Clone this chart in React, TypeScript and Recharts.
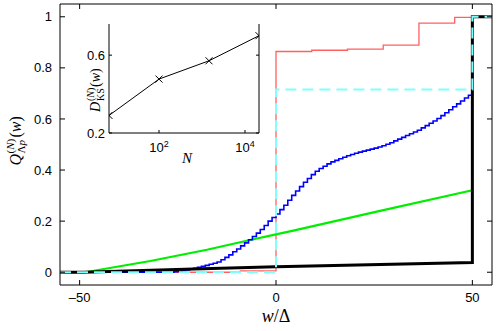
import React from 'react';
import { LineChart, Line, XAxis, YAxis } from 'recharts';

const SANS = '"Liberation Sans", Arial, sans-serif';
const SERIF = '"Liberation Serif", "Times New Roman", serif';

// main panel, x = w/Δ
const redX = [-55, -9.1, 0, 9.1, 18.2, 27.3, 36.4, 45.5, 50, 55];
const redY = [0, 0.005, 0.864, 0.869, 0.873, 0.889, 0.975, 0.998, 1, 1];

const cyanX = [-55, 0, 50, 55];
const cyanY = [0, 0.715, 1, 1];

const greenX = [-55, -48.6, -32, -17.6, -6.6, 0, 4.4, 26.5, 50];
const greenY = [0, 0, 0.044, 0.088, 0.126, 0.148, 0.163, 0.24, 0.321];

const blackX = [-55, -49, -21, 0, 50, 50, 55];
const blackY = [0, 0, 0.013, 0.021, 0.038, 1, 1];

const blueX = [
  -55, -26, -25, -24, -23, -22, -21, -20, -19, -18, -17, -16, -15, -14, -13, -12, -11, -10,
  -9, -8, -7, -6, -5, -4, -3, -2, -1, 0, 1, 2, 3, 4, 5, 6, 7, 8, 9, 10, 11, 12, 13, 14, 15,
  16, 17, 18, 19, 20, 21, 22, 23, 24, 25, 26, 27, 28, 29, 30, 31, 32, 33, 34, 35, 36, 37,
  38, 39, 40, 41, 42, 43, 44, 45, 46, 47, 48, 49, 50, 55,
];
const blueY = [
  0, 0.002, 0.004, 0.006, 0.009, 0.012, 0.015, 0.019, 0.023, 0.027, 0.031, 0.035, 0.04,
  0.049, 0.058, 0.068, 0.08, 0.091, 0.103, 0.115, 0.127, 0.14, 0.153, 0.167, 0.183, 0.2,
  0.214, 0.228, 0.245, 0.262, 0.282, 0.301, 0.318, 0.335, 0.352, 0.367, 0.382, 0.395,
  0.406, 0.415, 0.424, 0.432, 0.438, 0.444, 0.45, 0.456, 0.461, 0.466, 0.47, 0.474, 0.478,
  0.482, 0.486, 0.49, 0.495, 0.501, 0.507, 0.514, 0.521, 0.528, 0.535, 0.542, 0.549,
  0.556, 0.565, 0.574, 0.583, 0.592, 0.602, 0.613, 0.624, 0.636, 0.648, 0.659, 0.67,
  0.682, 0.693, 1, 1,
];

const mainXTicks = [-50, 0, 50];
const mainYTicks = [0, 0.2, 0.4, 0.6, 0.8, 1];

// inset: D_KS vs N
const insetN = [10, 100, 1000, 10000];
const insetD = [0.29, 0.477, 0.571, 0.7];
const insetXTicks = [100, 10000];
const insetYTicks = [0.2, 0.6];

const pts = (xs: number[], ys: number[]) => xs.map((x, i) => ({ x, y: ys[i] }));

const fmtX = (v: number) => (v < 0 ? '\u2013' + Math.abs(v) : String(v));

// ticks drawn inside the box, Matlab style
const bottomTick = (m: number, len: number, size: number, render: (v: number) => React.ReactNode) => (p: any) => (
  <g>
    <line x1={p.x} x2={p.x} y1={p.y - m} y2={p.y - m - len} stroke="#000" />
    <text x={p.x} y={p.y} dy="0.71em" textAnchor="middle" fontFamily={SANS} fontSize={size} fill="#000">
      {render(p.payload.value)}
    </text>
  </g>
);
const leftTick = (m: number, len: number, size: number) => (p: any) => (
  <g>
    <line x1={p.x + m} x2={p.x + m + len} y1={p.y} y2={p.y} stroke="#000" />
    <text x={p.x} y={p.y} dy="0.355em" textAnchor="end" fontFamily={SANS} fontSize={size} fill="#000">
      {String(p.payload.value)}
    </text>
  </g>
);
const topTick = (len: number) => (p: any) => (
  <line x1={p.x} x2={p.x} y1={p.y} y2={p.y + len} stroke="#000" />
);
const rightTick = (len: number) => (p: any) => (
  <line x1={p.x} x2={p.x - len} y1={p.y} y2={p.y} stroke="#000" />
);

function XTitle(props: any) {
  const vb = props.viewBox || { x: 60, y: 285, width: 432, height: 46 };
  return (
    <text x={vb.x + vb.width / 2} y={vb.y + 37} textAnchor="middle" fontFamily={SERIF} fontSize={18} fill="#000">
      <tspan fontStyle="italic">w</tspan>
      <tspan>/Δ</tspan>
    </text>
  );
}

function YTitle(props: any) {
  const vb = props.viewBox || { x: 0, y: 4, width: 60, height: 281 };
  const bx = vb.x + 21;
  const cy = vb.y + vb.height / 2 - 4;
  return (
    <g transform={`translate(${bx},${cy}) rotate(-90)`} fontFamily={SERIF} fill="#000">
      <text x={-25} y={0} fontSize={16} fontStyle="italic">Q</text>
      <text x={-13} y={-7} fontSize={11}>
        (<tspan fontStyle="italic">N</tspan>)
      </text>
      <text x={-13} y={4} fontSize={11}>
        Λ<tspan fontStyle="italic">p</tspan>
      </text>
      <text x={3} y={0} fontSize={16}>
        (<tspan fontStyle="italic">w</tspan>)
      </text>
    </g>
  );
}

function InsetYTitle(props: any) {
  const vb = props.viewBox || { x: 0, y: 4, width: 49, height: 109 };
  const bx = vb.x + 40;
  const cy = vb.y + 64;
  return (
    <g transform={`translate(${bx},${cy}) rotate(-90)`} fontFamily={SERIF} fill="#000">
      <text x={-24} y={0} fontSize={14} fontStyle="italic">D</text>
      <text x={-13} y={-6.5} fontSize={10}>
        (<tspan fontStyle="italic">N</tspan>)
      </text>
      <text x={-13} y={3.5} fontSize={10}>KS</text>
      <text x={1} y={0} fontSize={14}>
        (<tspan fontStyle="italic">w</tspan>)
      </text>
    </g>
  );
}

function InsetXTitle(props: any) {
  const vb = props.viewBox || { x: 49, y: 113, width: 150, height: 37 };
  return (
    <text x={vb.x + vb.width / 2 + 3} y={vb.y + 30} textAnchor="middle" fontFamily={SERIF} fontSize={15} fontStyle="italic" fill="#000">
      N
    </text>
  );
}

const powTen = (v: number) => (
  <>
    <tspan>10</tspan>
    <tspan dy={-5} fontSize={9}>{Math.round(Math.log10(v))}</tspan>
  </>
);

function Cross(p: any) {
  const { cx, cy } = p;
  if (cx == null || cy == null) return <g key={p.index} />;
  const s = 3.5;
  return (
    <g key={p.index} stroke="#000" strokeWidth={1}>
      <line x1={cx - s} y1={cy - s} x2={cx + s} y2={cy + s} />
      <line x1={cx - s} y1={cy + s} x2={cx + s} y2={cy - s} />
    </g>
  );
}

function MainChart() {
  return (
    <LineChart width={498} height={331} margin={{ top: 0, right: 0, bottom: 0, left: 0 }}>
      <XAxis
        xAxisId="b"
        type="number"
        dataKey="x"
        domain={[-55, 55]}
        ticks={mainXTicks}
        allowDataOverflow
        height={46}
        stroke="#000"
        tickLine={false}
        tickSize={0}
        tickMargin={8}
        tick={bottomTick(8, 5, 13, fmtX)}
        label={<XTitle />}
      />
      <XAxis
        xAxisId="t"
        orientation="top"
        type="number"
        dataKey="x"
        domain={[-55, 55]}
        ticks={mainXTicks}
        allowDataOverflow
        height={4}
        stroke="#000"
        tickLine={false}
        tickSize={0}
        tickMargin={0}
        tick={topTick(5)}
      />
      <YAxis
        yAxisId="l"
        type="number"
        domain={[-0.05, 1.05]}
        ticks={mainYTicks}
        allowDataOverflow
        width={60}
        stroke="#000"
        tickLine={false}
        tickSize={0}
        tickMargin={8}
        tick={leftTick(8, 5, 13)}
        label={<YTitle />}
      />
      <YAxis
        yAxisId="r"
        orientation="right"
        type="number"
        domain={[-0.05, 1.05]}
        ticks={mainYTicks}
        allowDataOverflow
        width={6}
        stroke="#000"
        tickLine={false}
        tickSize={0}
        tickMargin={0}
        tick={rightTick(5)}
      />
      <Line xAxisId="b" yAxisId="l" data={pts(redX, redY)} dataKey="y" type="stepAfter" stroke="#ff6060" strokeWidth={1.3} dot={false} activeDot={false} isAnimationActive={false} />
      <Line xAxisId="b" yAxisId="l" data={pts(greenX, greenY)} dataKey="y" type="linear" stroke="#00ee00" strokeWidth={2.2} dot={false} activeDot={false} isAnimationActive={false} />
      <Line xAxisId="b" yAxisId="l" data={pts(blueX, blueY)} dataKey="y" type="stepAfter" stroke="#0000ff" strokeWidth={1.6} dot={false} activeDot={false} isAnimationActive={false} />
      <Line xAxisId="b" yAxisId="l" data={pts(blackX, blackY)} dataKey="y" type="linear" stroke="#000" strokeWidth={3} dot={false} activeDot={false} isAnimationActive={false} />
      <Line xAxisId="b" yAxisId="l" data={pts(cyanX, cyanY)} dataKey="y" type="stepAfter" stroke="#80ffff" strokeWidth={2} strokeDasharray="11 6" dot={false} activeDot={false} isAnimationActive={false} />
    </LineChart>
  );
}

function InsetChart() {
  return (
    <LineChart width={205} height={150} margin={{ top: 4, right: 0, bottom: 0, left: 0 }}>
      <XAxis
        xAxisId="b"
        type="number"
        dataKey="x"
        scale="log"
        domain={[10, 10000]}
        ticks={insetXTicks}
        allowDataOverflow
        height={37}
        stroke="#000"
        tickLine={false}
        tickSize={0}
        tickMargin={10}
        tick={bottomTick(10, 3, 13, powTen)}
        label={<InsetXTitle />}
      />
      <XAxis
        xAxisId="t"
        orientation="top"
        type="number"
        dataKey="x"
        scale="log"
        domain={[10, 10000]}
        ticks={insetXTicks}
        allowDataOverflow
        height={0}
        stroke="#000"
        tickLine={false}
        tickSize={0}
        tickMargin={0}
        tick={topTick(3)}
      />
      <YAxis
        yAxisId="l"
        type="number"
        domain={[0.2, 0.76]}
        ticks={insetYTicks}
        allowDataOverflow
        width={49}
        stroke="#000"
        tickLine={false}
        tickSize={0}
        tickMargin={4}
        tick={leftTick(4, 3, 13)}
        label={<InsetYTitle />}
      />
      <YAxis
        yAxisId="r"
        orientation="right"
        type="number"
        domain={[0.2, 0.76]}
        ticks={insetYTicks}
        allowDataOverflow
        width={6}
        stroke="#000"
        tickLine={false}
        tickSize={0}
        tickMargin={0}
        tick={rightTick(3)}
      />
      <Line xAxisId="b" yAxisId="l" data={pts(insetN, insetD)} dataKey="y" type="linear" stroke="#000" strokeWidth={1} dot={(p: any) => <Cross {...p} key={p.index} />} activeDot={false} isAnimationActive={false} />
    </LineChart>
  );
}

export default function App() {
  return (
    <div style={{ position: 'absolute', left: 0, top: 0, width: 498, height: 331, background: '#fff' }}>
      <div style={{ position: 'absolute', left: 0, top: 0 }}>
        <MainChart />
      </div>
      <div style={{ position: 'absolute', left: 60, top: 20 }}>
        <InsetChart />
      </div>
    </div>
  );
}
